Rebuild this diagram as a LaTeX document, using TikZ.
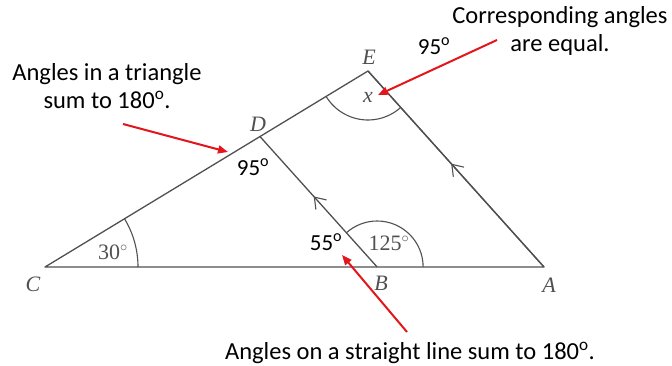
\documentclass[tikz,border=0pt]{standalone}
\usepackage{fontspec}
\setmainfont{Liberation Serif}
\newfontfamily\calib{Carlito}
\usetikzlibrary{arrows.meta,decorations.markings,calc}
\definecolor{geo}{HTML}{505050}
\definecolor{redarr}{HTML}{E3161B}
\tikzset{
  geoline/.style={draw=geo,line width=1.3pt},
  anglearc/.style={draw=geo,line width=1.1pt},
  redarrow/.style={draw=redarr,line width=2pt,-{Triangle[length=10pt,width=8pt]}},
  note/.style={font=\calib\fontsize{24.5}{28}\selectfont,align=center,inner sep=0pt},
  degsans/.style={font=\calib\fontsize{23}{25}\selectfont,inner sep=0pt},
  serifl/.style={font=\fontsize{22}{24}\selectfont,text=geo,inner sep=0pt},
  serifit/.style={font=\itshape\fontsize{22}{24}\selectfont,text=geo,inner sep=0pt},
  parmark/.style={postaction={decorate},decoration={markings,mark=at position #1 with {\draw[draw=geo,line width=1.1pt,line cap=round,line join=miter] (-9pt,-7pt) -- (1pt,0pt) -- (-9pt,7pt);}}}
}
\begin{document}
\begin{tikzpicture}[x=1pt,y=1pt]
\useasboundingbox (0,0) rectangle (672,365);
\coordinate (C) at (45,98);
\coordinate (A) at (544,98);
\coordinate (E) at (368,294);
\coordinate (D) at ($(C)!0.6656!(E)$);
\coordinate (B) at ($(C)!0.6656!(A)$);
% triangle
\draw[geoline,line join=round] (C) -- (A) -- (E) -- cycle;
\draw[geoline,parmark=0.52] (A) -- (E);
\draw[geoline,parmark=0.53] (B) -- (D);
% angle arcs
\draw[anglearc] ($(C)+(93,0)$) arc[start angle=0,end angle=31.25,radius=93];
\draw[anglearc] ($(B)+(46,0)$) arc[start angle=0,end angle=131.9,radius=46];
\draw[anglearc] ($(E)+(211.25:49)$) arc[start angle=211.25,end angle=311.93,radius=49];
% vertex labels
\node[serifit] (lE) at (369,308) {E};
\node[serifit] (lD) at (258,241) {D};
\node[serifit] (lC) at (33,81) {C};
\node[serifit] (lB) at (381,82) {B};
\node[serifit] (lA) at (549,80) {A};
\node[serifit] (lx) at (368,268) {x};
\node[serifl] (l30) at (113,113) {30$^\circ$};
\node[serifl] (l125) at (389,122) {125$^\circ$};
% sans angle values
\node[degsans] (a95t) at (434,319) {95\textsuperscript{o}};
\node[degsans] (a95d) at (253,198) {95\textsuperscript{o}};
\node[degsans] (a55) at (326,123) {55\textsuperscript{o}};
% notes
\node[note] (n1) at (107,279) {Angles in a triangle\\sum to 180\textsuperscript{o}.};
\node[note] (n2) at (560,334) {Corresponding angles\\are equal.};
\node[note] (n3) at (410,12) {Angles on a straight line sum to 180\textsuperscript{o}.};
% red arrows
\coordinate (r1s) at (123,241);
\coordinate (r1e) at (228,213);
\coordinate (r2s) at (497,325);
\coordinate (r2e) at (378,270);
\coordinate (r3s) at (407,33);
\coordinate (r3e) at (342,110);
\draw[redarrow] (r1s) -- (r1e);
\draw[redarrow] (r2s) -- (r2e);
\draw[redarrow] (r3s) -- (r3e);
\end{tikzpicture}
\end{document}
